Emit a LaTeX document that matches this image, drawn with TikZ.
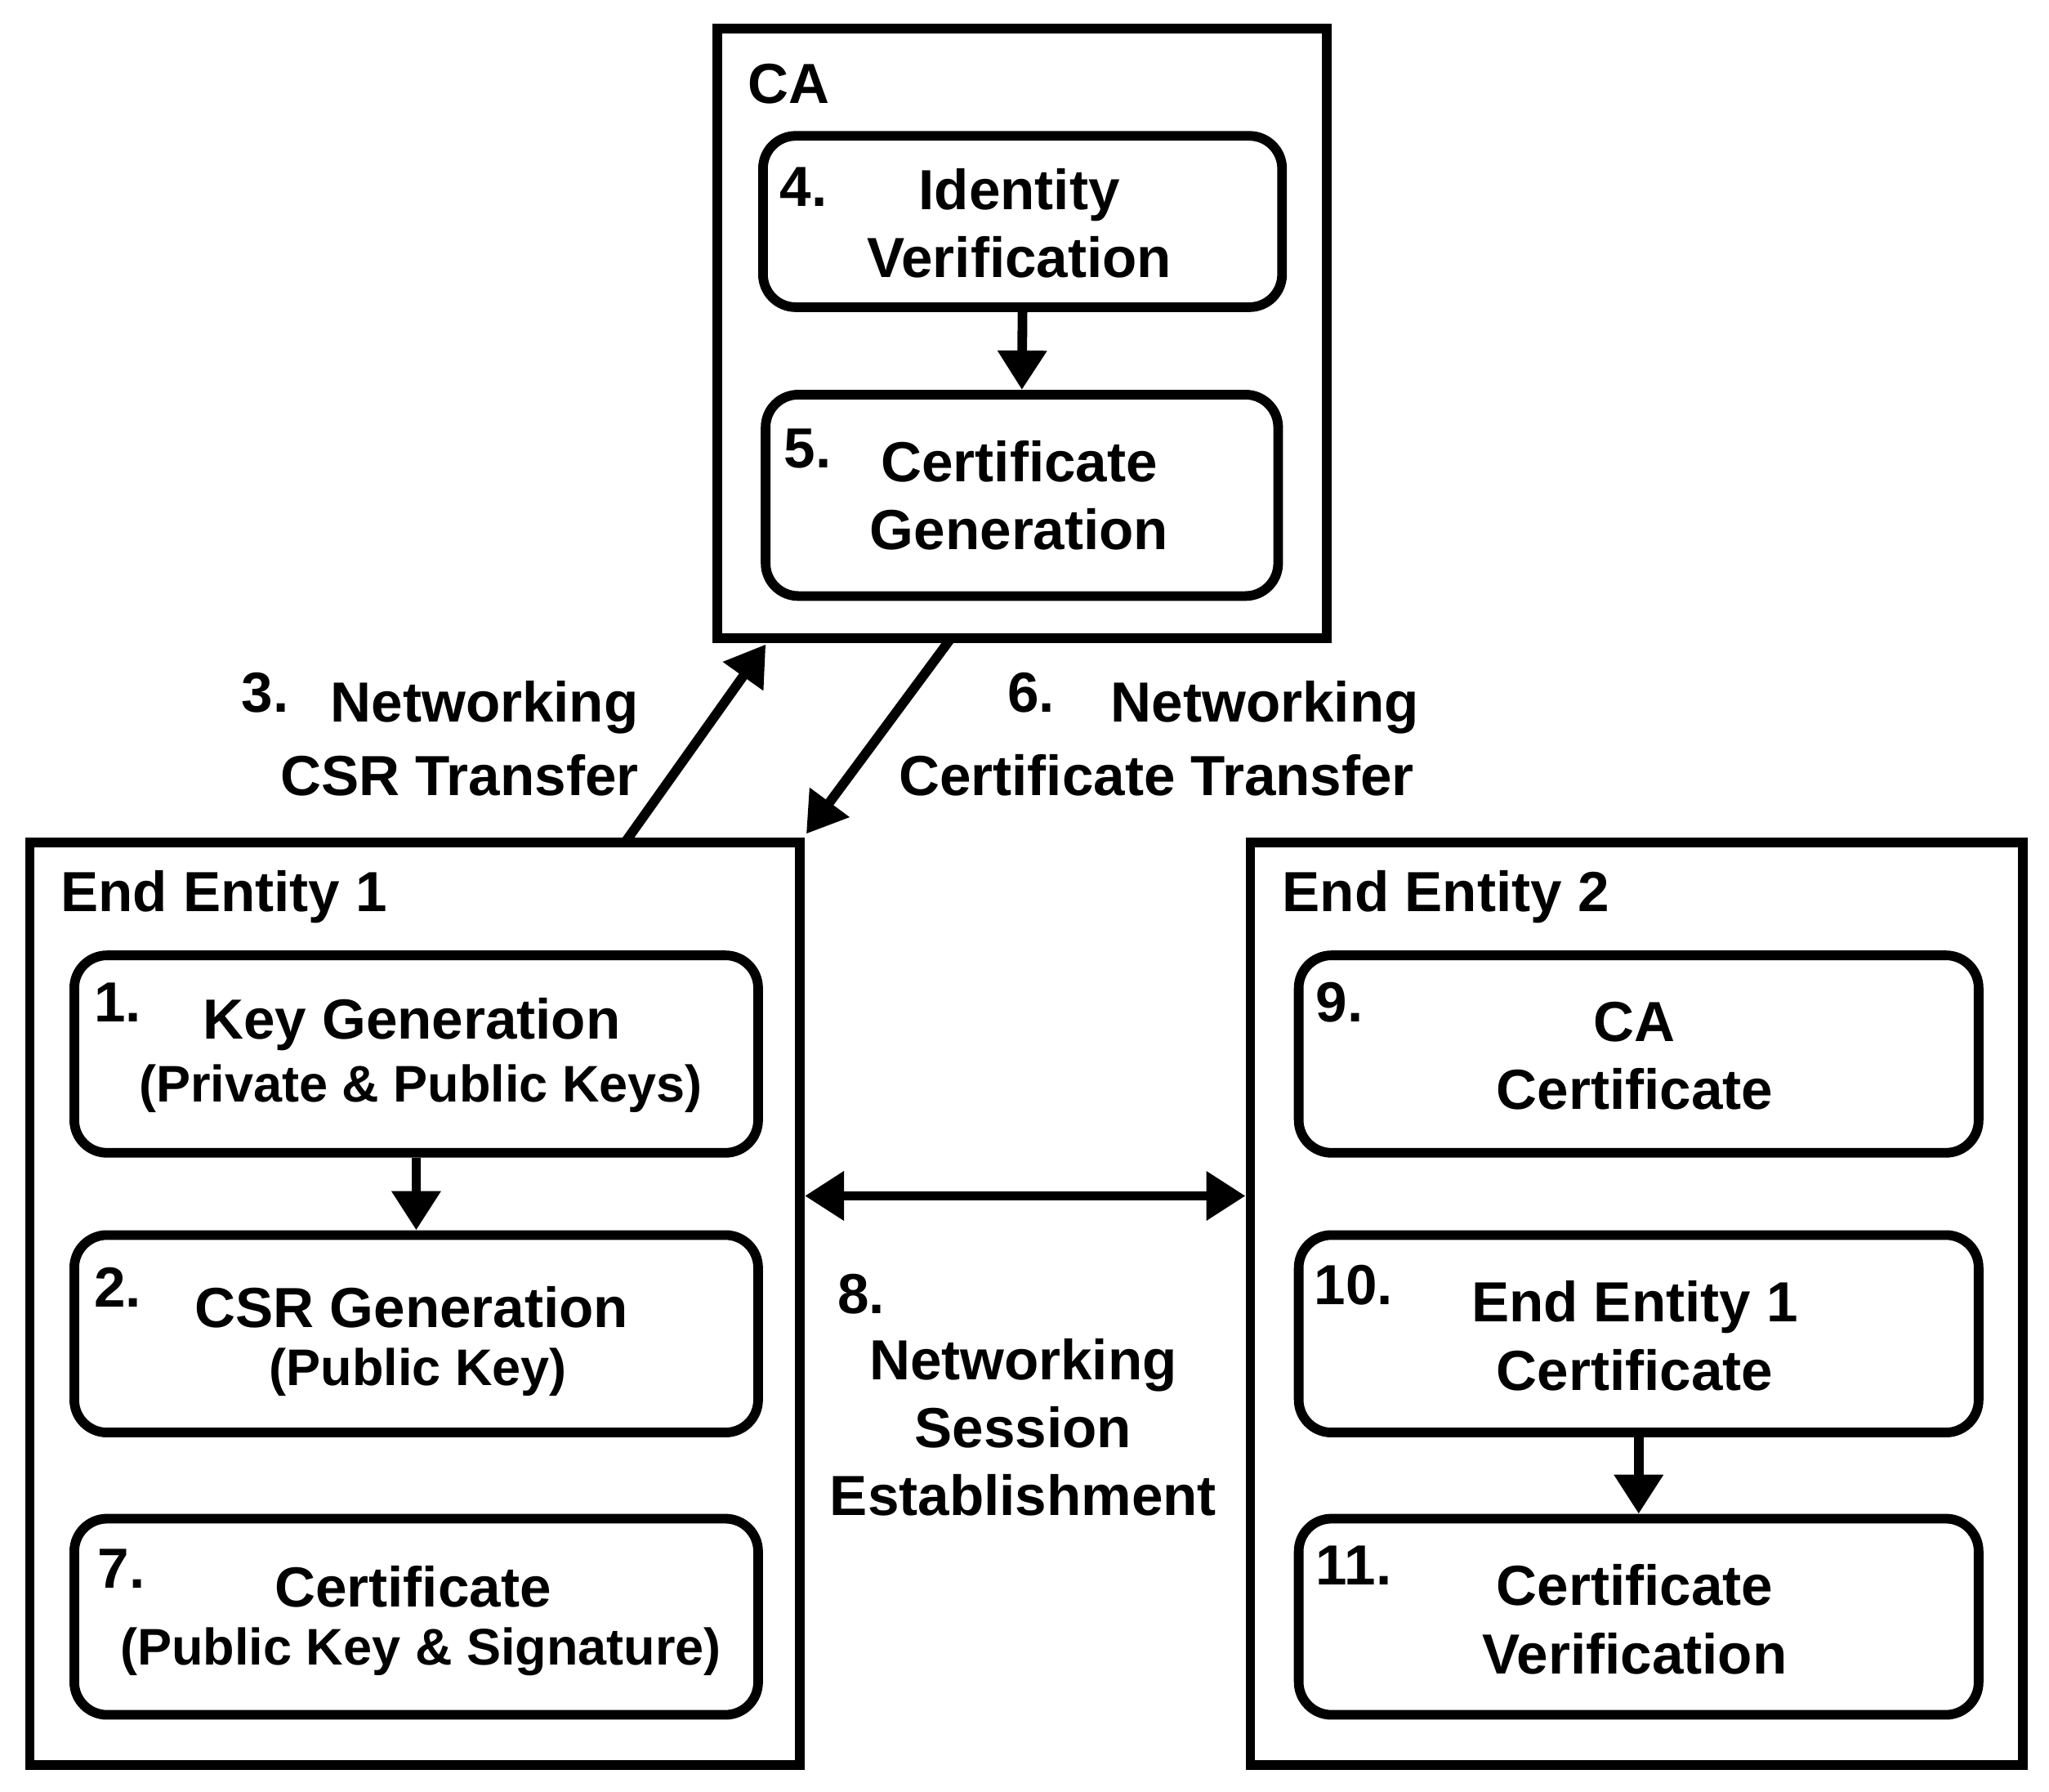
\documentclass[tikz,border=0pt]{standalone}
\usepackage{fontspec}
\setmainfont{Liberation Sans}
\usetikzlibrary{arrows.meta}
\begin{document}
\begin{tikzpicture}[x=0.01cm,y=-0.01cm,
  big/.style={font=\fontsize{12.3}{14.8}\selectfont\bfseries},
  small/.style={font=\fontsize{11.2}{13}\selectfont\bfseries},
  outer/.style={draw,line width=2.1pt},
  inner/.style={draw,line width=2.1pt,rounded corners=0.25cm},
  arr/.style={line width=2.1pt,-{Triangle[width=0.36cm,length=0.3cm]}},
  darr/.style={line width=2.1pt,{Triangle[width=0.36cm,length=0.3cm]}-{Triangle[width=0.36cm,length=0.3cm]}}]
\useasboundingbox (0,0) rectangle (1568,1371);
% CA
\node[outer,minimum width=4.66cm,minimum height=4.66cm] (ca) at (782,255) {};
\node[big,anchor=west] (cat) at (560,64) {CA};
\node[inner,minimum width=3.97cm,minimum height=1.31cm] (b4) at (782.5,169.5) {};
\node[big,align=center] (t4) at (780,171) {Identity\\Verification};
\node[big] (n4) at (615,143) {4.};
\node[inner,minimum width=3.92cm,minimum height=1.54cm] (b5) at (782,379) {};
\node[big,align=center] (t5) at (780,379) {Certificate\\Generation};
\node[big] (n5) at (618,343) {5.};
\draw[arr] (b4.south) -- (b5.north);
% EE1
\node[outer,minimum width=5.89cm,minimum height=7.05cm] (e1) at (317.5,997.5) {};
\node[big,anchor=west] (e1t) at (34,686) {End Entity 1};
\node[inner,minimum width=5.23cm,minimum height=1.51cm] (b1) at (318.5,806.5) {};
\node[big] (t1a) at (315,784) {Key Generation};
\node[small] (t1b) at (322,833) {(Private \& Public Keys)};
\node[big] (n1) at (90,767) {1.};
\node[inner,minimum width=5.23cm,minimum height=1.51cm] (b2) at (318.5,1020.5) {};
\node[big] (t2a) at (315,1000) {CSR Generation};
\node[small] (t2b) at (320,1050) {(Public Key)};
\node[big] (n2) at (90,985) {2.};
\node[inner,minimum width=5.23cm,minimum height=1.5cm] (b7) at (318.5,1237) {};
\node[big] (t7a) at (316,1214) {Certificate};
\node[small] (t7b) at (322,1264) {(Public Key \& Signature)};
\node[big] (n7) at (93,1200) {7.};
\draw[arr] (b1.south) -- (b2.north);
% EE2
\node[outer,minimum width=5.91cm,minimum height=7.05cm] (e2) at (1252.5,997.5) {};
\node[big,anchor=west] (e2t) at (969,686) {End Entity 2};
\node[inner,minimum width=5.2cm,minimum height=1.51cm] (b9) at (1254,806.5) {};
\node[big,align=center] (t9) at (1251,808) {CA\\Certificate};
\node[big] (n9) at (1025,767) {9.};
\node[inner,minimum width=5.2cm,minimum height=1.51cm] (b10) at (1254,1020.5) {};
\node[big,align=center] (t10) at (1251,1022) {End Entity 1\\Certificate};
\node[big] (n10) at (1036,983) {10.};
\node[inner,minimum width=5.2cm,minimum height=1.5cm] (b11) at (1254,1237) {};
\node[big,align=center] (t11) at (1251,1239) {Certificate\\Verification};
\node[big] (n11) at (1036,1198) {11.};
\draw[arr] (b10.south) -- (b11.north);
% network arrows
\coordinate (a3s) at (478,645);
\coordinate (a3e) at (586,493);
\draw[arr] (a3s) -- (a3e);
\coordinate (a6s) at (728,488);
\coordinate (a6e) at (617,638);
\draw[arr] (a6s) -- (a6e);
\draw[darr] (e1.east |- 0,915) -- (e2.west |- 0,915);
% labels
\node[big] (l3n) at (203,530) {3.};
\node[big,anchor=east] (l3a) at (501,541) {Networking};
\node[big,anchor=east] (l3b) at (501,593) {CSR Transfer};
\node[big] (l6n) at (789,530) {6.};
\node[big] (l6a) at (968,541) {Networking};
\node[big] (l6b) at (885,593) {Certificate Transfer};
\node[big] (l8n) at (659,990) {8.};
\node[big,align=center] (l8) at (783,1092) {Networking\\Session\\Establishment};
\end{tikzpicture}
\end{document}
